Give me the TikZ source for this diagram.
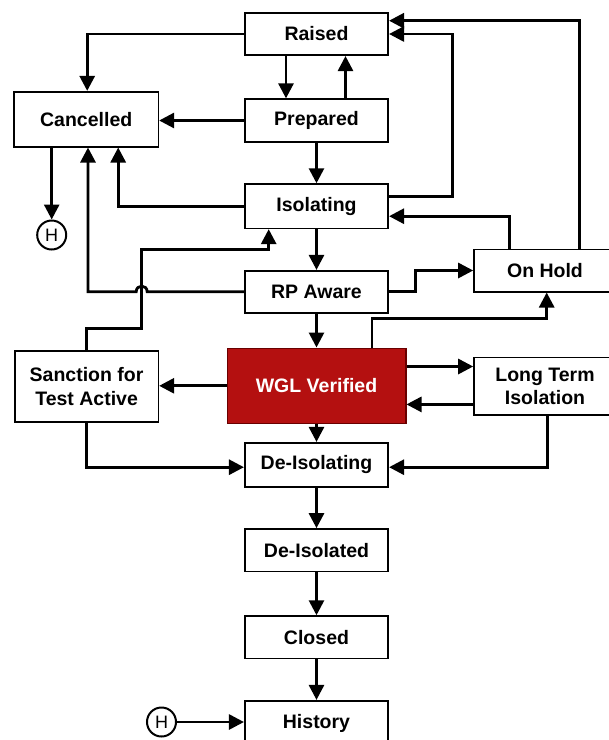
\documentclass[tikz,border=0pt]{standalone}
\usepackage{fontspec}
\setmainfont{Liberation Sans}
\usetikzlibrary{arrows.meta}
\definecolor{wglred}{RGB}{180,16,16}
\definecolor{wglborder}{RGB}{105,0,0}
\tikzset{
  x=1pt, y=-1pt,
  statebox/.style={draw=black, line width=1.6pt, fill=white, rectangle, inner sep=0pt,
    minimum width=143.5pt, align=center, font=\bfseries\fontsize{19.5}{23.3}\selectfont},
  wglbox/.style={statebox, fill=wglred, draw=wglborder, text=white, minimum width=178.4pt},
  hist/.style={draw=black, line width=2pt, circle, fill=white, inner sep=0pt,
    minimum size=29pt, font=\fontsize{18}{18}\selectfont},
  conn/.style={line width=2.8pt, -{Triangle[length=15pt,width=15pt]}},
  plain/.style={line width=2.8pt}
}
\begin{document}
\begin{tikzpicture}
\useasboundingbox (0,0) rectangle (609,740);
\clip (0,0) rectangle (609,740);
\fill[white] (0,0) rectangle (609,740);

\node[statebox, minimum height=42.5pt] (raised) at (316.5,34) {Raised};
\node[statebox, minimum height=55pt, minimum width=144.3pt] (cancelled) at (86.2,119.2) {Cancelled};
\node[statebox, minimum height=42.7pt] (prepared) at (316.5,120.5) {Prepared};
\node[statebox, minimum height=44.3pt] (isolating) at (316.5,206.2) {Isolating};
\node[statebox, minimum height=42pt] (rp) at (316.5,291.7) {RP Aware};
\node[statebox, minimum height=42.4pt, minimum width=142pt] (onhold) at (545,270.5) {On Hold};
\node[statebox, minimum height=70.7pt] (sanction) at (86.6,386.4) {Sanction for\\Test Active};
\node[wglbox, minimum height=75pt] (wgl) at (316.5,385.8) {WGL Verified};
\node[statebox, minimum height=57.7pt, minimum width=142pt] (lti) at (545,386.2) {Long Term\\Isolation};
\node[statebox, minimum height=44pt] (deisolating) at (316.5,464.7) {De-Isolating};
\node[statebox, minimum height=42.7pt] (deisolated) at (316.5,550.3) {De-Isolated};
\node[statebox, minimum height=42.3pt] (closed) at (316.5,637.2) {Closed};
\node[statebox, minimum height=44.6pt] (history) at (316.5,723) {History};
\node[hist] (h1) at (51.7,235) {H};
\node[hist] (h2) at (161.5,722) {H};

% top part
\draw[conn] (raised.west) -| ([xshift=1pt]cancelled.north);
\draw[conn] ([xshift=-30.5pt]raised.south) -- ([xshift=-30.5pt]raised.south |- prepared.north);
\draw[conn] ([xshift=29pt]prepared.north) -- ([xshift=29pt]prepared.north |- raised.south);
\draw[conn] (prepared.west) -- (prepared.west -| cancelled.east);
\draw[conn] (prepared.south) -- (isolating.north);
\draw[conn] (isolating.west) -| ([xshift=32pt]cancelled.south);
\draw[conn] ([yshift=9.5pt]isolating.east) -- ++(63.5,0) |- (raised.east);
\draw[conn] ([xshift=34.3pt]onhold.north) |- ([yshift=13.3pt]raised.east);
\draw[conn] ([xshift=-35.7pt]onhold.north) |- ([yshift=-10pt]isolating.east);
\draw[conn] ([xshift=-34.5pt]cancelled.south) -- (h1.north);
\draw[conn] (isolating.south) -- (rp.north);

% sanction up to isolating
\draw[conn] (sanction.north) -- ++(0,-21.4) -- ++(55.1,0) -- ++(0,-79.3) -| ([xshift=-47.8pt]isolating.south);
% RP aware to cancelled with hop
\draw[conn] (rp.west) -- (147.2,291.7) .. controls (147.2,284.3) and (136.2,284.3) .. (136.2,291.7)
  -- (88,291.7) -- ([xshift=1.8pt]cancelled.south);
\draw[conn] (rp.east) -- ++(26.7,0) |- (onhold.west);
\draw[conn] (rp.south) -- (wgl.north);

% WGL
\draw[conn] ([xshift=55.5pt]wgl.north) -- ++(0,-29) -| ([xshift=1.7pt]onhold.south);
\draw[conn] (wgl.west) -- (wgl.west -| sanction.east);
\draw[conn] ([yshift=19.3pt]wgl.east) -- ([yshift=19.3pt]wgl.east -| lti.west);
\draw[conn] ([yshift=-18.2pt]lti.west) -- ([yshift=-18.2pt]lti.west -| wgl.east);
\draw[conn] (wgl.south) -- (deisolating.north);
\draw[conn] (sanction.south) |- ([yshift=-2.5pt]deisolating.west);
\draw[conn] ([xshift=2.3pt]lti.south) |- ([yshift=-2.5pt]deisolating.east);

% bottom chain
\draw[conn] (deisolating.south) -- (deisolated.north);
\draw[conn] (deisolated.south) -- (closed.north);
\draw[conn] (closed.south) -- (history.north);
\draw[conn] (h2.east) -- (h2.east -| history.west);
\end{tikzpicture}
\end{document}
